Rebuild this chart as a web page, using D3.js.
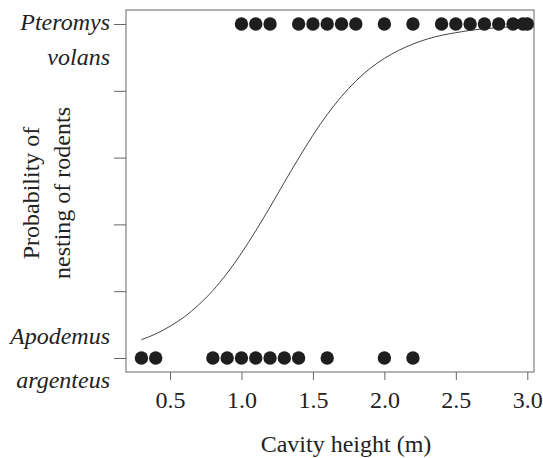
<!DOCTYPE html>
<html><head><meta charset="utf-8">
<script src="https://cdn.jsdelivr.net/npm/d3@7"></script>
<style>body{margin:0;background:#fff;} svg{display:block;} text{font-family:"Liberation Serif","Times New Roman",serif;fill:#222;}</style>
</head><body>
<svg id="c" width="543" height="458"></svg>
<script>
// Data
const pteromysHeights = [1.0, 1.1, 1.2, 1.4, 1.5, 1.6, 1.7, 1.8, 2.0, 2.2, 2.4, 2.5, 2.6, 2.7, 2.8, 2.9, 2.97, 3.0];
const apodemusHeights = [0.3, 0.4, 0.8, 0.9, 1.0, 1.1, 1.2, 1.3, 1.4, 1.6, 2.0, 2.2];
const curveX = [0.3,0.4,0.5,0.6,0.7,0.8,0.9,1.0,1.1,1.2,1.3,1.4,1.5,1.6,1.7,1.8,1.9,2.0,2.1,2.2,2.3,2.4,2.5,2.6,2.7,2.8,2.9,3.0];
const curveP = [0.055,0.072,0.095,0.123,0.159,0.202,0.254,0.314,0.381,0.452,0.526,0.598,0.667,0.729,0.783,0.829,0.867,0.897,0.921,0.940,0.955,0.966,0.974,0.981,0.986,0.989,0.992,0.994];
const xTicks = [0.5, 1.0, 1.5, 2.0, 2.5, 3.0];
const yTicks = [0, 0.2, 0.4, 0.6, 0.8, 1.0];
const xTitle = "Cavity height (m)";
const yTitle = ["Probability of", "nesting of rodents"];
const topLabel = ["Pteromys", "volans"];
const bottomLabel = ["Apodemus", "argenteus"];

const svg = d3.select("#c");
const box = {l:126, r:534, t:10, b:372};
const x = d3.scaleLinear().domain([0.5, 3.0]).range([170, 527.3]);
const y = d3.scaleLinear().domain([0, 1]).range([358, 24]);
const fs = 24;

// frame
svg.append("rect").attr("x", box.l).attr("y", box.t)
  .attr("width", box.r - box.l).attr("height", box.b - box.t)
  .attr("fill", "none").attr("stroke", "#666").attr("stroke-width", 1);

// x axis
const xa = svg.append("g").attr("transform", `translate(0,${box.b})`)
  .call(d3.axisBottom(x).tickValues(xTicks).tickFormat(d3.format(".1f")).tickSize(8).tickPadding(11));
xa.select(".domain").remove();
xa.selectAll("line").attr("stroke", "#666");
xa.selectAll("text").attr("font-size", fs).attr("fill", "#222").attr("font-family", "Liberation Serif");

// y axis (ticks only)
const ya = svg.append("g").attr("transform", `translate(${box.l},0)`)
  .call(d3.axisLeft(y).tickValues(yTicks).tickFormat("").tickSize(12));
ya.select(".domain").remove();
ya.selectAll("line").attr("stroke", "#666");

// category labels
const lab = svg.append("g").attr("font-size", fs).attr("font-style", "italic").attr("text-anchor", "end");
lab.append("text").attr("x", 110).attr("y", y(1) + 6).text(topLabel[0]);
lab.append("text").attr("x", 110).attr("y", y(1) + 41).text(topLabel[1]);
lab.append("text").attr("x", 110).attr("y", y(0) - 14).text(bottomLabel[0]);
lab.append("text").attr("x", 110).attr("y", y(0) + 30).text(bottomLabel[1]);

// axis titles
svg.append("text").attr("x", 346).attr("y", 452).attr("text-anchor", "middle")
  .attr("font-size", fs).text(xTitle);
const yt = svg.append("text").attr("transform", `translate(0,193) rotate(-90)`)
  .attr("text-anchor", "middle").attr("font-size", fs);
yt.append("tspan").attr("x", 0).attr("y", 39).text(yTitle[0]);
yt.append("tspan").attr("x", 0).attr("y", 70).text(yTitle[1]);

// fitted curve
const pts = curveX.map((d, i) => [d, curveP[i]]);
svg.append("path").datum(pts)
  .attr("d", d3.line().x(d => x(d[0])).y(d => y(d[1])).curve(d3.curveMonotoneX))
  .attr("fill", "none").attr("stroke", "#444").attr("stroke-width", 1);

// points
svg.append("g").selectAll("circle").data(pteromysHeights).join("circle")
  .attr("cx", d => x(d)).attr("cy", y(1)).attr("r", 6.7).attr("fill", "#1e1e1e");
svg.append("g").selectAll("circle").data(apodemusHeights).join("circle")
  .attr("cx", d => x(d)).attr("cy", y(0)).attr("r", 6.7).attr("fill", "#1e1e1e");
</script>
</body></html>
